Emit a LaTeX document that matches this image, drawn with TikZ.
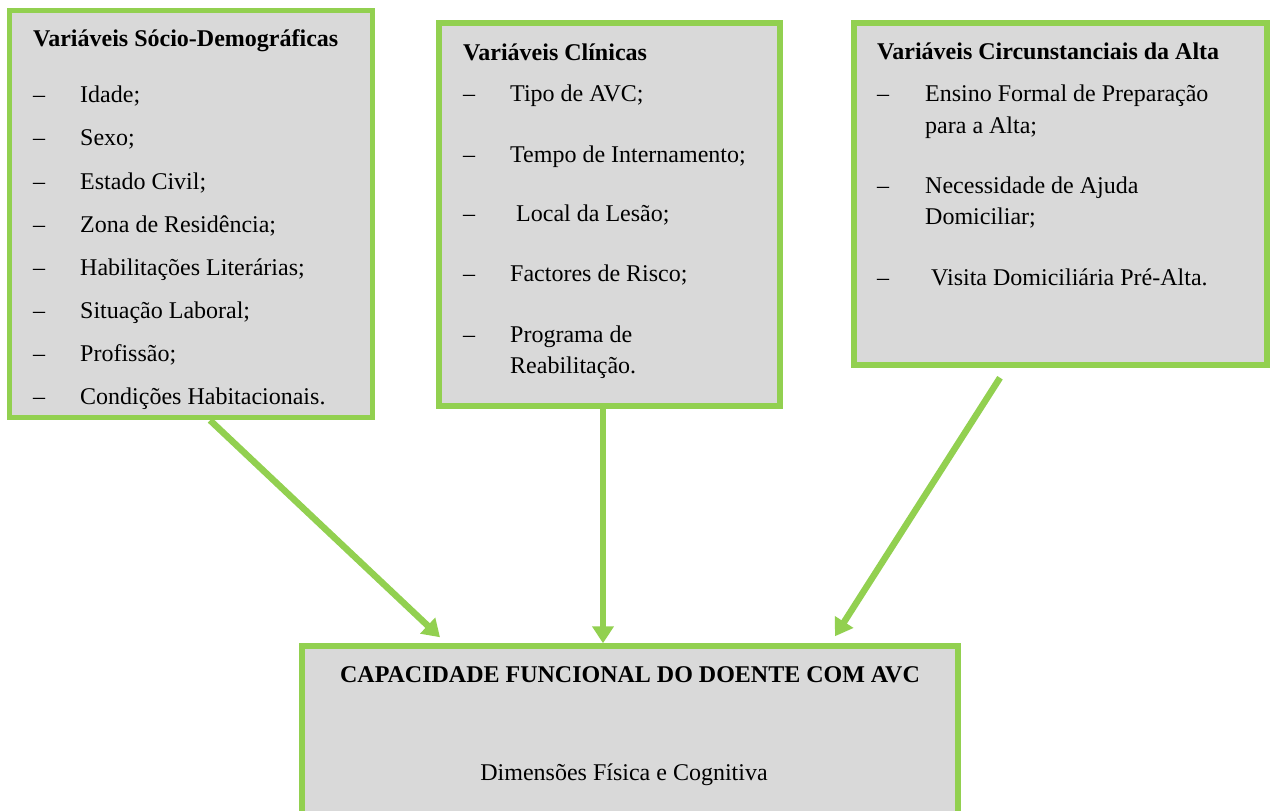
\documentclass[tikz,border=0pt]{standalone}
\usepackage{fontspec}
\setmainfont{Liberation Serif}
\usetikzlibrary{arrows.meta}
\definecolor{lgreen}{HTML}{92D050}
\definecolor{boxgray}{HTML}{D9D9D9}
\begin{document}
\begin{tikzpicture}[x=1pt,y=-1pt,
  panel/.style={draw=lgreen, line width=5.5pt, fill=boxgray, rectangle, inner sep=0pt},
  txt/.style={anchor=base west, inner sep=0pt, font=\fontsize{24}{32}\selectfont},
  ttl/.style={anchor=base west, inner sep=0pt, font=\fontsize{24}{32}\selectfont\bfseries},
  link/.style={draw=lgreen, line width=6.5pt, -{Triangle[length=17pt,width=21pt]}}]
\useasboundingbox (0,0) rectangle (1270,811);
\clip (0,0) rectangle (1270,811);
% boxes
\node[panel, minimum width=363pt, minimum height=407pt] (b1) at (191,214) {};
\node[panel, minimum width=341pt, minimum height=383pt] (b2) at (609.5,214.5) {};
\node[panel, minimum width=413pt, minimum height=342pt] (b3) at (1060.5,194) {};
\node[panel, minimum width=656pt, minimum height=174pt] (b4) at (630,733) {};
% box 1 text
\node[ttl] (t1) at (33,46) {Variáveis Sócio-Demográficas};
\node[txt] (d11) at (33,102) {–}; \node[txt] (i11) at (80,102) {Idade;};
\node[txt] (d12) at (33,145) {–}; \node[txt] (i12) at (80,145) {Sexo;};
\node[txt] (d13) at (33,189) {–}; \node[txt] (i13) at (80,189) {Estado Civil;};
\node[txt] (d14) at (33,232) {–}; \node[txt] (i14) at (80,232) {Zona de Residência;};
\node[txt] (d15) at (33,275) {–}; \node[txt] (i15) at (80,275) {Habilitações Literárias;};
\node[txt] (d16) at (33,318) {–}; \node[txt] (i16) at (80,318) {Situação Laboral;};
\node[txt] (d17) at (33,361) {–}; \node[txt] (i17) at (80,361) {Profissão;};
\node[txt] (d18) at (33,404) {–}; \node[txt] (i18) at (80,404) {Condições Habitacionais.};
% box 2 text
\node[ttl] (t2) at (463,60) {Variáveis Clínicas};
\node[txt] (d21) at (463,101) {–}; \node[txt] (i21) at (510,101) {Tipo de AVC;};
\node[txt] (d22) at (463,162) {–}; \node[txt] (i22) at (510,162) {Tempo de Internamento;};
\node[txt] (d23) at (463,221) {–}; \node[txt] (i23) at (516,221) {Local da Lesão;};
\node[txt] (d24) at (463,281) {–}; \node[txt] (i24) at (510,281) {Factores de Risco;};
\node[txt] (d25) at (463,342) {–}; \node[txt] (i25) at (510,342) {Programa de};
\node[txt] (i26) at (510,373) {Reabilitação.};
% box 3 text
\node[ttl] (t3) at (877,59) {Variáveis Circunstanciais da Alta};
\node[txt] (d31) at (877,101) {–}; \node[txt] (i31) at (925,101) {Ensino Formal de Preparação};
\node[txt] (i32) at (925,133) {para a Alta;};
\node[txt] (d33) at (877,193) {–}; \node[txt] (i33) at (925,193) {Necessidade de Ajuda};
\node[txt] (i34) at (925,224) {Domiciliar;};
\node[txt] (d35) at (877,285) {–}; \node[txt] (i35) at (931,285) {Visita Domiciliária Pré-Alta.};
% bottom box text
\node[anchor=base, inner sep=0pt, font=\fontsize{24}{32}\selectfont\bfseries] (t4) at (630,682) {CAPACIDADE FUNCIONAL DO DOENTE COM AVC};
\node[anchor=base, inner sep=0pt, font=\fontsize{24}{32}\selectfont] (s4) at (624,780) {Dimensões Física e Cognitiva};
% arrows
\coordinate (a1s) at ([xshift=19pt]b1.south);
\coordinate (a1e) at ([xshift=-190pt,yshift=6pt]b4.north);
\coordinate (a2s) at ([xshift=-6.5pt]b2.south);
\coordinate (a2e) at ([xshift=-27pt]b4.north);
\coordinate (a3s) at ([xshift=-60.5pt,yshift=-10pt]b3.south);
\coordinate (a3e) at ([xshift=205pt,yshift=7pt]b4.north);
\draw[link] (a1s) -- (a1e);
\draw[link] (a2s) -- (a2e);
\draw[link] (a3s) -- (a3e);
\end{tikzpicture}
\end{document}
